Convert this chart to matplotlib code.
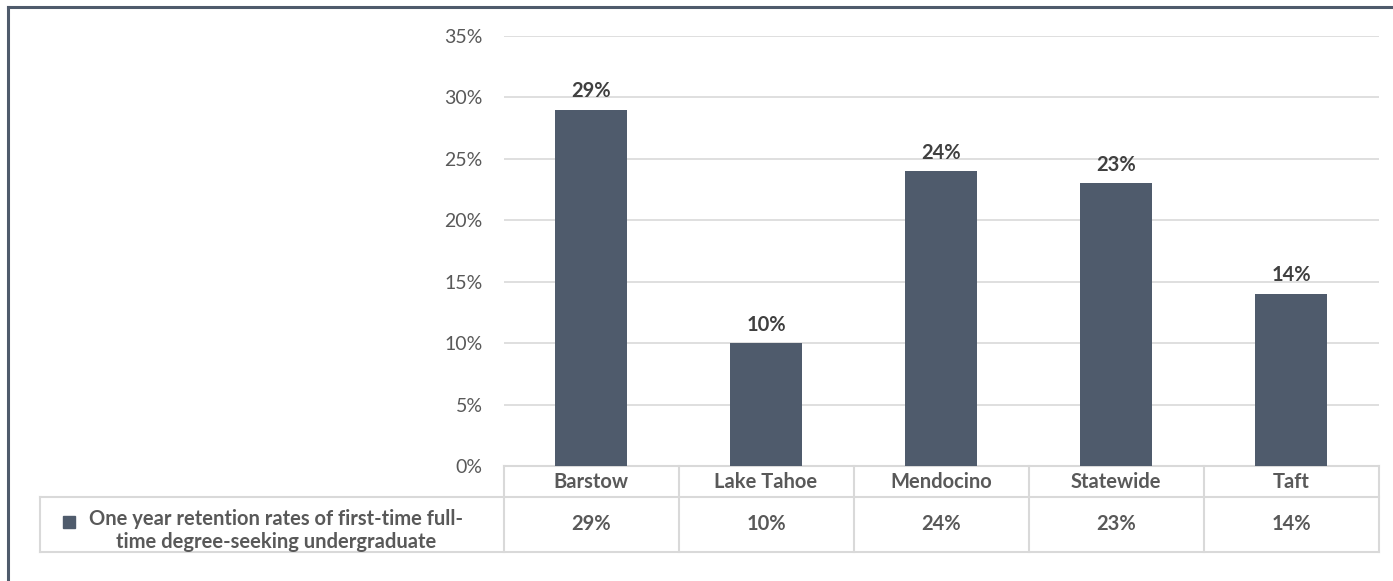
import matplotlib.pyplot as plt
from matplotlib.patches import Rectangle
from matplotlib.lines import Line2D
import matplotlib.transforms as mtransforms

plt.rcParams['font.family'] = ['Lato', 'DejaVu Sans']

categories = ['Barstow', 'Lake Tahoe', 'Mendocino', 'Statewide', 'Taft']
retention = [29, 10, 24, 23, 14]
series_name = 'One year retention rates of first-time full-\ntime degree-seeking undergraduate'

bar_color = '#4f5b6c'
text_color = '#595959'
grid_color = '#d9d9d9'
fs = 14.5

W, H = 1393, 581
fig = plt.figure(figsize=(W / 100, H / 100), dpi=100)
ax = fig.add_axes([503.5 / W, 1 - 466 / H, 875 / W, 430 / H])

x = list(range(len(categories)))
ax.bar(x, retention, width=0.41, color=bar_color, zorder=3)
for xi, v in zip(x, retention):
    ax.text(xi, v + 0.7, f'{v}%', ha='center', va='bottom', fontsize=fs,
            fontweight='bold', color='#404040')

ax.set_xlim(-0.5, len(categories) - 0.5)
ax.set_ylim(0, 35)
ax.set_yticks(range(0, 36, 5))
ax.set_yticklabels([f'{t}%' for t in range(0, 36, 5)])
ax.tick_params(axis='y', length=0, pad=15, labelsize=14, labelcolor=text_color)
ax.tick_params(axis='x', length=0, labelbottom=False)
ax.grid(axis='y', color=grid_color, lw=1.2, zorder=0)
for s in ax.spines.values():
    s.set_visible(False)

# data table under the plot
trans = mtransforms.blended_transform_factory(ax.transData, ax.transAxes)
h1 = 31 / 430
h2 = 86 / 430
left = -0.5 - (503.5 - 40) / 175
right = len(categories) - 0.5
kw = dict(transform=trans, color=grid_color, lw=1.5, clip_on=False)
ax.add_line(Line2D([-0.5, right], [0, 0], **kw))
ax.add_line(Line2D([left, right], [-h1, -h1], **kw))
ax.add_line(Line2D([left, right], [-h2, -h2], **kw))
ax.add_line(Line2D([left, left], [-h1, -h2], **kw))
for i in range(len(categories) + 1):
    ax.add_line(Line2D([i - 0.5, i - 0.5], [0, -h2], **kw))

for xi, c, v in zip(x, categories, retention):
    ax.text(xi, -h1 / 2, c, transform=trans, ha='center', va='center',
            fontsize=fs, fontweight='bold', color=text_color)
    ax.text(xi, -(h1 + h2) / 2, f'{v}%', transform=trans, ha='center',
            va='center', fontsize=fs, fontweight='bold', color=text_color)

cx = -0.5 + (276 - 503.5) / 175
ax.text(cx, -(h1 + h2) / 2 - 6 / 430, series_name, transform=trans, ha='center',
        va='center', multialignment='center', fontsize=fs,
        fontweight='bold', color=text_color, linespacing=1.2)
ax.add_patch(Rectangle((left + 0.13, -0.144), 0.07, 12 / 430, transform=trans,
                       color=bar_color, clip_on=False))

# outer frame (cropped)
fig.add_artist(Line2D([7.5 / W, 7.5 / W], [0, 1 - 7 / H], color='#4f5b6c', lw=2.2))
fig.add_artist(Line2D([7.5 / W, 1], [1 - 7 / H, 1 - 7 / H], color='#4f5b6c', lw=2.2))

fig.savefig('out.png', dpi=100)
